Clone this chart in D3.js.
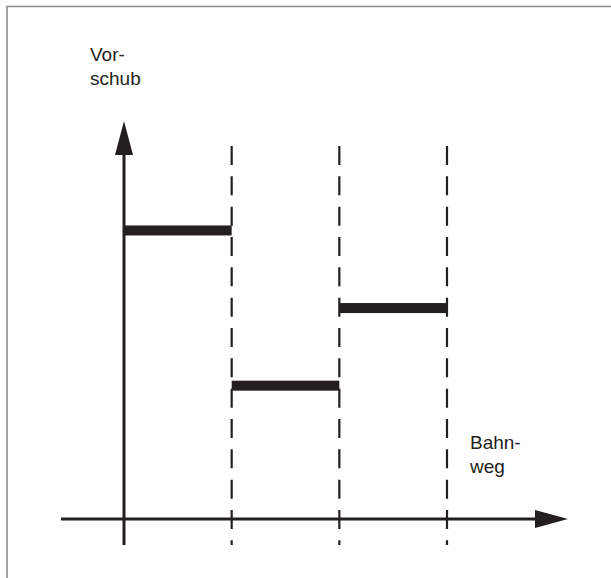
<!DOCTYPE html>
<html>
<head>
<meta charset="utf-8">
<script src="https://cdn.jsdelivr.net/npm/d3@7"></script>
<style>
  html, body { margin: 0; padding: 0; background: #fff; }
  svg { display: block; }
  text { font-family: "Liberation Sans", Arial, sans-serif; font-size: 19px; fill: #231f20; }
</style>
</head>
<body>
<svg id="chart"></svg>
<script>
// Bahnweg segment boundaries and feed (Vorschub) per segment
const boundaries = [0, 1, 2, 3];
const feed = [72.5, 33.5, 53];
const yLabel = ["Vor-", "schub"];
const xLabel = ["Bahn-", "weg"];

const width = 611;
const height = 578;
const ink = "#231f20";

const svg = d3.select("#chart").attr("width", width).attr("height", height);

const x = d3.scaleLinear().domain([0, 3]).range([124, 447]);
const y = d3.scaleLinear().domain([0, 100]).range([519, 121]);

// frame (top and left only)
svg.append("path")
  .attr("d", `M7,578 V6.5 H${width}`)
  .attr("fill", "none")
  .attr("stroke", "#8c8c8c")
  .attr("stroke-width", 1.6);

// dashed segment boundaries
svg.selectAll(".bound")
  .data(boundaries.slice(1))
  .enter()
  .append("line")
  .attr("class", "bound")
  .attr("x1", d => x(d))
  .attr("x2", d => x(d))
  .attr("y1", 146)
  .attr("y2", y(0) + 26)
  .attr("stroke", ink)
  .attr("stroke-width", 2.2)
  .attr("stroke-dasharray", "19,11.33");

// axes with arrowheads
const x0 = x(0), y0 = y(0);
svg.append("line")
  .attr("x1", x0).attr("x2", x0)
  .attr("y1", y0 + 26).attr("y2", y(100) + 34)
  .attr("stroke", ink).attr("stroke-width", 3);
svg.append("path")
  .attr("d", `M${x0},${y(100)} L${x0 - 9},${y(100) + 34} L${x0 + 9},${y(100) + 34} Z`)
  .attr("fill", ink);

const xEnd = 568;
svg.append("line")
  .attr("x1", x0 - 63).attr("x2", xEnd - 33)
  .attr("y1", y0).attr("y2", y0)
  .attr("stroke", ink).attr("stroke-width", 3);
svg.append("path")
  .attr("d", `M${xEnd},${y0} L${xEnd - 33},${y0 - 9} L${xEnd - 33},${y0 + 9} Z`)
  .attr("fill", ink);

// feed segments
svg.selectAll(".seg")
  .data(feed)
  .enter()
  .append("rect")
  .attr("class", "seg")
  .attr("x", (d, i) => x(boundaries[i]))
  .attr("width", (d, i) => x(boundaries[i + 1]) - x(boundaries[i]))
  .attr("y", d => y(d) - 5)
  .attr("height", 10)
  .attr("fill", ink);

// labels
svg.append("text")
  .attr("x", 90).attr("y", 61)
  .selectAll("tspan")
  .data(yLabel)
  .enter()
  .append("tspan")
  .attr("x", 90)
  .attr("dy", (d, i) => i ? 24 : 0)
  .text(d => d);

svg.append("text")
  .attr("x", 470).attr("y", 449)
  .selectAll("tspan")
  .data(xLabel)
  .enter()
  .append("tspan")
  .attr("x", 470)
  .attr("dy", (d, i) => i ? 24 : 0)
  .text(d => d);
</script>
</body>
</html>
